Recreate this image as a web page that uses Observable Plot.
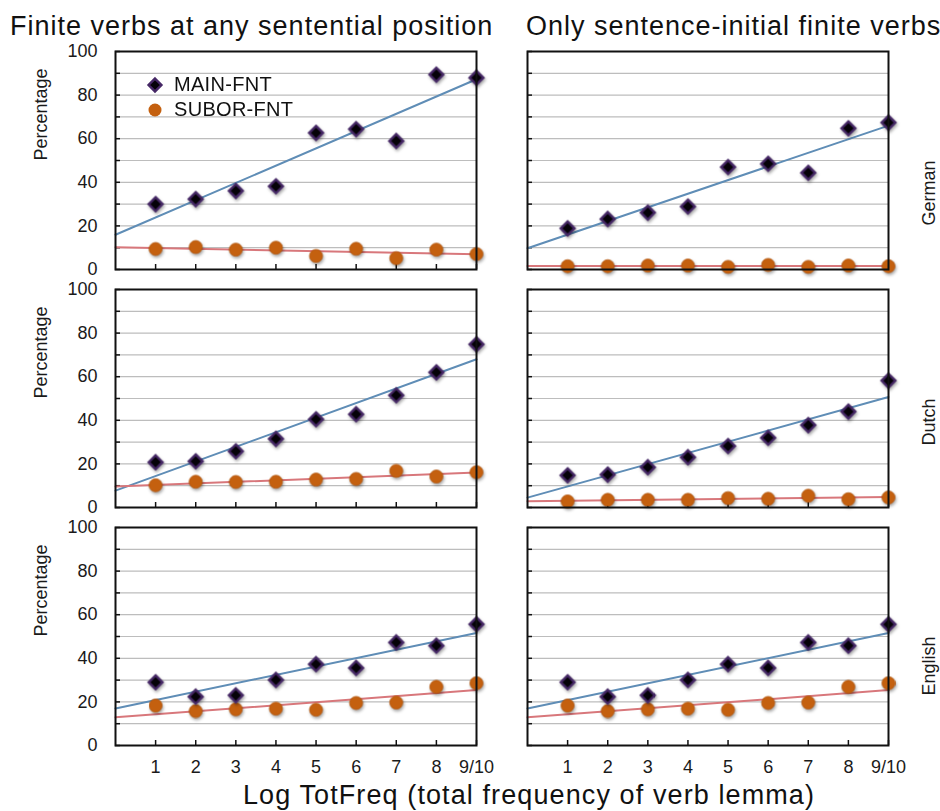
<!DOCTYPE html>
<html>
<head>
<meta charset="utf-8">
<script src="https://cdn.jsdelivr.net/npm/d3@7"></script>
<script src="https://cdn.jsdelivr.net/npm/@observablehq/plot@0.6"></script>
<style>
  html, body { margin: 0; padding: 0; background: #fff; }
  #wrap { position: relative; width: 940px; height: 811px; font-family: "Liberation Sans", Arial, sans-serif; color: #111; }
  #wrap svg.plot { position: absolute; left: 0; top: 0; }
  .title { position: absolute; white-space: nowrap; font-size: 27px; line-height: 1; letter-spacing: 1px; color: #111; }
  .xtitle { position: absolute; white-space: nowrap; font-size: 27px; line-height: 1; letter-spacing: 1.1px; color: #111; }
  .legend { position: absolute; left: 146px; top: 72px; font-size: 20px; letter-spacing: 0.3px; color: #111; line-height: 25px; }
  .legend div { display: flex; align-items: center; }
  .legend svg { margin-right: 10px; overflow: visible; }
</style>
</head>
<body>
<div id="wrap">
  <div class="title" id="t0" style="left:10px; top:13px;"></div>
  <div class="title" id="t1" style="left:526px; top:13px;"></div>
  <div class="xtitle" id="xt" style="left:243px; top:782px;"></div>
  <div class="legend" id="legend"></div>
</div>
<script>
// ---- data ----
const freqBins = [1, 2, 3, 4, 5, 6, 7, 8, 9];
const tickLabels = ["1", "2", "3", "4", "5", "6", "7", "8", "9/10"];
const languages = ["German", "Dutch", "English"];
const positions = ["Finite verbs at any sentential position", "Only sentence-initial finite verbs"];
const seriesNames = ["MAIN-FNT", "SUBOR-FNT"];
const xTitle = "Log TotFreq (total frequency of verb lemma)";
const yTitle = "Percentage";

const germanAnyMain   = [30.0, 32.3, 36.1, 38.2, 62.7, 64.4, 59.0, 89.4, 88.0];
const germanAnySubor  = [9.4, 10.3, 9.1, 10.0, 6.2, 9.5, 5.2, 9.1, 7.1];
const germanInitMain  = [18.9, 23.2, 26.1, 28.9, 47.0, 48.5, 44.4, 64.8, 67.4];
const germanInitSubor = [1.5, 1.5, 1.8, 1.8, 1.2, 2.1, 1.2, 1.8, 1.5];
const dutchAnyMain    = [20.8, 21.2, 25.8, 31.5, 40.5, 42.8, 51.5, 62.0, 74.9];
const dutchAnySubor   = [10.2, 11.8, 11.7, 11.8, 12.8, 13.1, 16.8, 14.2, 16.2];
const dutchInitMain   = [14.8, 15.1, 18.5, 23.1, 28.2, 32.0, 37.8, 44.0, 58.2];
const dutchInitSubor  = [2.8, 3.5, 3.5, 3.5, 4.3, 4.0, 5.4, 3.8, 4.6];
const englishAnyMain  = [29.0, 22.4, 23.0, 30.1, 37.3, 35.6, 47.3, 45.8, 55.6];
const englishAnySubor = [18.3, 15.8, 16.6, 16.9, 16.4, 19.5, 19.7, 26.9, 28.6];
const englishInitMain = [29.0, 22.4, 23.0, 30.1, 37.3, 35.6, 47.3, 45.8, 55.6];
const englishInitSubor= [18.3, 15.8, 16.6, 16.9, 16.4, 19.5, 19.7, 26.9, 28.6];

const panels = [
  [languages[0], positions[0], germanAnyMain, germanAnySubor],
  [languages[0], positions[1], germanInitMain, germanInitSubor],
  [languages[1], positions[0], dutchAnyMain, dutchAnySubor],
  [languages[1], positions[1], dutchInitMain, dutchInitSubor],
  [languages[2], positions[0], englishAnyMain, englishAnySubor],
  [languages[2], positions[1], englishInitMain, englishInitSubor]
];

// ---- tables built from the arrays ----
const points = [];
const fits = [];
for (const [lang, pos, main, subor] of panels) {
  [main, subor].forEach((vals, si) => {
    const rows = freqBins.map((x, i) => ({lang, pos, series: seriesNames[si], x, y: vals[i]}));
    points.push(...rows);
    // least-squares trend line, drawn across the whole x domain
    const mx = d3.mean(rows, d => d.x), my = d3.mean(rows, d => d.y);
    const slope = d3.sum(rows, d => (d.x - mx) * (d.y - my)) / d3.sum(rows, d => (d.x - mx) ** 2);
    const icpt = my - slope * mx;
    for (const x of [0, d3.max(freqBins)]) {
      fits.push({lang, pos, series: seriesNames[si], key: lang + pos + si, x, y: icpt + slope * x});
    }
  });
}
const yLabelRows = languages.map(lang => ({lang, pos: positions[0], text: yTitle}));
const facetLabelRows = languages.map(lang => ({lang, pos: positions[1], text: lang}));

const mainPts = points.filter(d => d.series === seriesNames[0]);
const suborPts = points.filter(d => d.series === seriesNames[1]);

const lineColor = d3.scaleOrdinal(seriesNames, ["#5f8db6", "#d8777b"]);

const chart = Plot.plot({
  width: 940,
  height: 811,
  marginTop: 50,
  marginBottom: 65,
  marginLeft: 115,
  marginRight: 52,
  style: {fontFamily: '"Liberation Sans", Arial, sans-serif', fontSize: "18px", color: "#111", background: "transparent"},
  fx: {domain: positions, paddingInner: 0.124, paddingOuter: 0, axis: null},
  fy: {domain: languages, paddingInner: 0.084, paddingOuter: 0, axis: null},
  x: {domain: [0, 9]},
  y: {domain: [0, 100]},
  marks: [
    Plot.gridY({ticks: 10, stroke: "#bdbdbd", strokeOpacity: 1, strokeWidth: 1.2, facetAnchor: null}),
    Plot.axisY({ticks: 10, tickSize: -5, tickFormat: () => "", stroke: "#111", strokeWidth: 1.5, label: null, facetAnchor: null}),
    Plot.axisX({ticks: freqBins, tickSize: -5, tickFormat: () => "", stroke: "#111", strokeWidth: 1.5, label: null, facetAnchor: null}),
    Plot.axisY({ticks: [0, 20, 40, 60, 80, 100], tickSize: 0, tickPadding: 18, fill: "#1a1a1a", label: null}),
    Plot.axisX({ticks: freqBins, tickSize: 0, tickPadding: 15, tickFormat: d => tickLabels[freqBins.indexOf(d)], fill: "#1a1a1a", label: null}),
    Plot.text(yLabelRows, {fx: "pos", fy: "lang", text: "text", frameAnchor: "left", dx: -74, rotate: -90, fontSize: 18, fill: "#1a1a1a"}),
    Plot.text(facetLabelRows, {fx: "pos", fy: "lang", text: "text", frameAnchor: "right", dx: 41, rotate: -90, fontSize: 18, fill: "#1a1a1a"}),
    Plot.line(fits, {fx: "pos", fy: "lang", x: "x", y: "y", z: "key", stroke: d => lineColor(d.series), strokeWidth: 2}),
    Plot.dot(suborPts, {fx: "pos", fy: "lang", x: "x", y: "y", r: 6.5, fill: "#c4600f", stroke: "#b5560a", strokeWidth: 0.8}),
    Plot.dot(mainPts, {fx: "pos", fy: "lang", x: "x", y: "y", symbol: "diamond2", r: 6.2, fill: "#050208", stroke: "#452765", strokeWidth: 2.4}),
    Plot.frame({stroke: "#111", strokeWidth: 2})
  ]
});
chart.classList.add("plot");
document.getElementById("wrap").prepend(chart);
chart.querySelectorAll('g[aria-label="dot"]').forEach(g => {
  g.style.filter = "drop-shadow(1px 2px 1.5px rgba(0,0,0,0.35))";
});

document.getElementById("t0").textContent = positions[0];
document.getElementById("t1").textContent = positions[1];
document.getElementById("xt").textContent = xTitle;

// legend
const legend = document.getElementById("legend");
const ns = "http://www.w3.org/2000/svg";
seriesNames.forEach((name, i) => {
  const row = document.createElement("div");
  const s = document.createElementNS(ns, "svg");
  s.setAttribute("width", 18); s.setAttribute("height", 18);
  s.setAttribute("viewBox", "-9 -9 18 18");
  let shape;
  if (i === 0) {
    shape = document.createElementNS(ns, "path");
    shape.setAttribute("d", d3.symbol(d3.symbolDiamond2, 5.8 * 5.8 * Math.PI)());
    shape.setAttribute("fill", "#050208"); shape.setAttribute("stroke", "#452765"); shape.setAttribute("stroke-width", 2.4);
  } else {
    shape = document.createElementNS(ns, "circle");
    shape.setAttribute("r", 6.5);
    shape.setAttribute("fill", "#c4600f");
  }
  s.appendChild(shape);
  const t = document.createElement("span");
  t.textContent = name;
  row.appendChild(s); row.appendChild(t);
  legend.appendChild(row);
});
</script>
</body>
</html>
